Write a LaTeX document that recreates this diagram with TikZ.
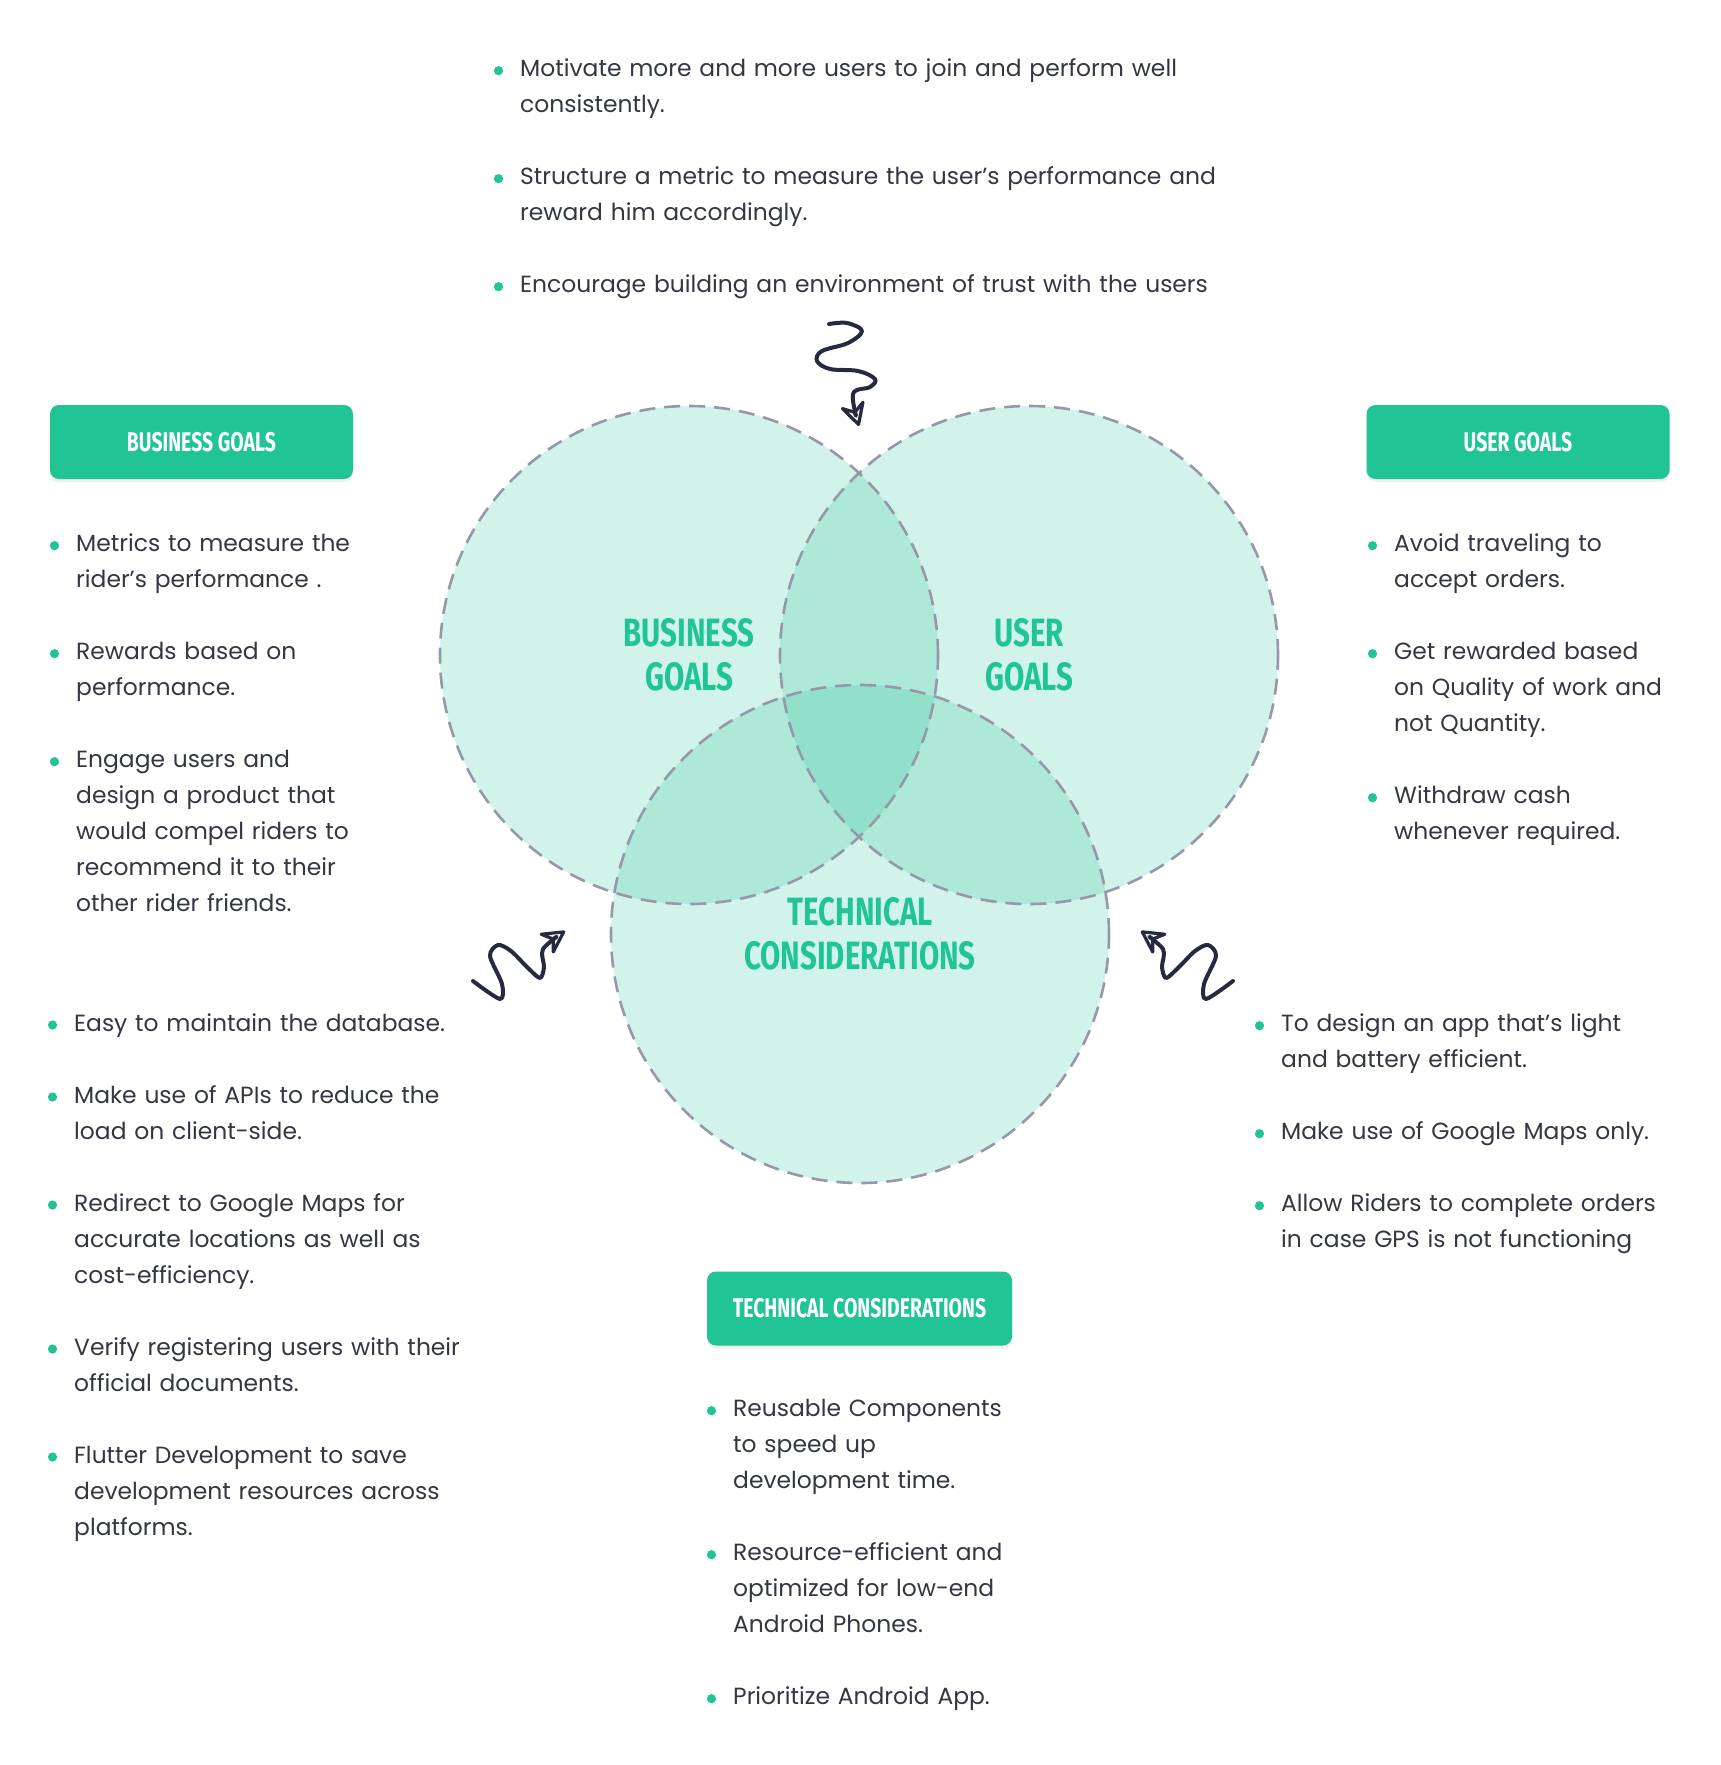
\documentclass[tikz,border=0pt]{standalone}
\usepackage{fontspec}
\setmainfont{Poppins}
\newfontfamily\condfont[FakeStretch=0.72]{Fira Sans}
\newfontfamily\titlefont[FakeStretch=0.745]{Fira Sans}
\usetikzlibrary{arrows.meta,shadows}
\definecolor{mint}{RGB}{33,196,148}
\definecolor{inkgray}{RGB}{52,55,67}
\definecolor{navy}{RGB}{38,42,62}
\definecolor{dashgray}{RGB}{150,152,170}
\begin{document}
\begin{tikzpicture}[x=1pt,y=-1pt]
\tikzstyle{venn_style} = [circle, fill=mint, fill opacity=0.2, minimum size=498pt, inner sep=0]
\tikzstyle{edge_style} = [dashgray, line width=2.6, dash pattern=on 16pt off 9pt]
\tikzstyle{title_style} = [mint, align=center, inner sep=0, font=\titlefont\bfseries\fontsize{39.5}{44}\selectfont]
\tikzstyle{tag_style} = [fill=mint, rounded corners=9pt, minimum width=303pt, minimum height=74pt, text=white, font=\condfont\bfseries\fontsize{27}{30}\selectfont, drop shadow={shadow xshift=0pt, shadow yshift=-3pt, opacity=0.12}]
\tikzstyle{item_style} = [inkgray, anchor=base west, inner sep=0, align=left, text width=800pt, font=\fontsize{23.4}{36}\selectfont]
\tikzstyle{dot_style} = [mint]
\tikzstyle{arrow_style} = [navy, line width=4, line cap=round, line join=round, -{Stealth[open, round, length=28pt, width=30pt, inset=10pt, line width=3.2pt]}]
    \fill[white] (0,0) rectangle (1721,1765);
    \useasboundingbox (0,0) rectangle (1721,1765);

    \node[venn_style] (biz) at (689,655) {};
    \node[venn_style] (user) at (1029,655) {};
    \node[venn_style] (tech) at (860,934) {};
    \foreach \c in {biz,user,tech}
        \draw[edge_style] (\c) circle (249pt);

    \node[title_style] (biz_label) at (biz) {BUSINESS\\GOALS};
    \node[title_style] (user_label) at (user) {USER\\GOALS};
    \node[title_style] (tech_label) at (tech) {TECHNICAL\\CONSIDERATIONS};

    \node[tag_style] (biz_tag) at (201.5,442) {BUSINESS GOALS};
    \node[tag_style] (user_tag) at (1518,442) {USER GOALS};
    \node[tag_style, minimum width=305pt] (tech_tag) at (859.5,1308.5) {TECHNICAL CONSIDERATIONS};

    \node[item_style] (t1) at (520,76.7) {Motivate more and more users to join and perform well\\consistently.};
    \node[item_style] (t2) at (520,184.7) {Structure a metric to measure the user’s performance and\\reward him accordingly.};
    \node[item_style] (t3) at (520,292.7) {Encourage building an environment of trust with the users};

    \node[item_style] (b1) at (76,551.7) {Metrics to measure the\\rider’s performance .};
    \node[item_style] (b2) at (76,659.7) {Rewards based on\\performance.};
    \node[item_style] (b3) at (76,767.7) {Engage users and\\design a product that\\would compel riders to\\recommend it to their\\other rider friends.};

    \node[item_style] (u1) at (1394,551.7) {Avoid traveling to\\accept orders.};
    \node[item_style] (u2) at (1394,659.7) {Get rewarded based\\on Quality of work and\\not Quantity.};
    \node[item_style] (u3) at (1394,803.7) {Withdraw cash\\whenever required.};

    \node[item_style] (c1) at (74,1031) {Easy to maintain the database.};
    \node[item_style] (c2) at (74,1103) {Make use of APIs to reduce the\\load on client-side.};
    \node[item_style] (c3) at (74,1211) {Redirect to Google Maps for\\accurate locations as well as\\cost-efficiency.};
    \node[item_style] (c4) at (74,1355) {Verify registering users with their\\official documents.};
    \node[item_style] (c5) at (74,1463) {Flutter Development to save\\development resources across\\platforms.};

    \node[item_style] (d1) at (1281,1031.7) {To design an app that’s light\\and battery efficient.};
    \node[item_style] (d2) at (1281,1139.7) {Make use of Google Maps only.};
    \node[item_style] (d3) at (1281,1211.7) {Allow Riders to complete orders\\in case GPS is not functioning};

    \node[item_style] (e1) at (733,1416.7) {Reusable Components\\to speed up\\development time.};
    \node[item_style] (e2) at (733,1560.7) {Resource-efficient and\\optimized for low-end\\Android Phones.};
    \node[item_style] (e3) at (733,1704.7) {Prioritize Android App.};

    \foreach \n in {t1,t2,t3,b1,b2,b3,u1,u2,u3,c1,c2,c3,c4,c5,d1,d2,d3,e1,e2,e3}
        \fill[dot_style] ([xshift=-21.5pt,yshift=6pt]\n.base west) circle (4.6pt);

    \coordinate (top_start) at (829,324);
    \coordinate (top_tip) at (859,426);
    \coordinate (left_start) at (473,981);
    \coordinate (left_tip) at (565,931);
    \coordinate (right_start) at (1233,981);
    \coordinate (right_tip) at (1141,931);

    \draw[arrow_style] plot[smooth, tension=0.6] coordinates {(top_start) (847,323) (862,331) (848,343) (822,351) (817,361) (830,369) (858,371) (875,379) (870,387) (853,394) (top_tip)};
    \draw[arrow_style] plot[smooth, tension=0.5] coordinates {(left_start) (500,999) (502,984) (490,956) (498,945) (511,951) (528,968) (540,978) (544,967) (543,949) (left_tip)};
    \draw[arrow_style] plot[smooth, tension=0.5] coordinates {(right_start) (1206,999) (1204,984) (1216,956) (1208,945) (1195,951) (1178,968) (1166,978) (1162,967) (1163,949) (right_tip)};
\end{tikzpicture}
\end{document}
